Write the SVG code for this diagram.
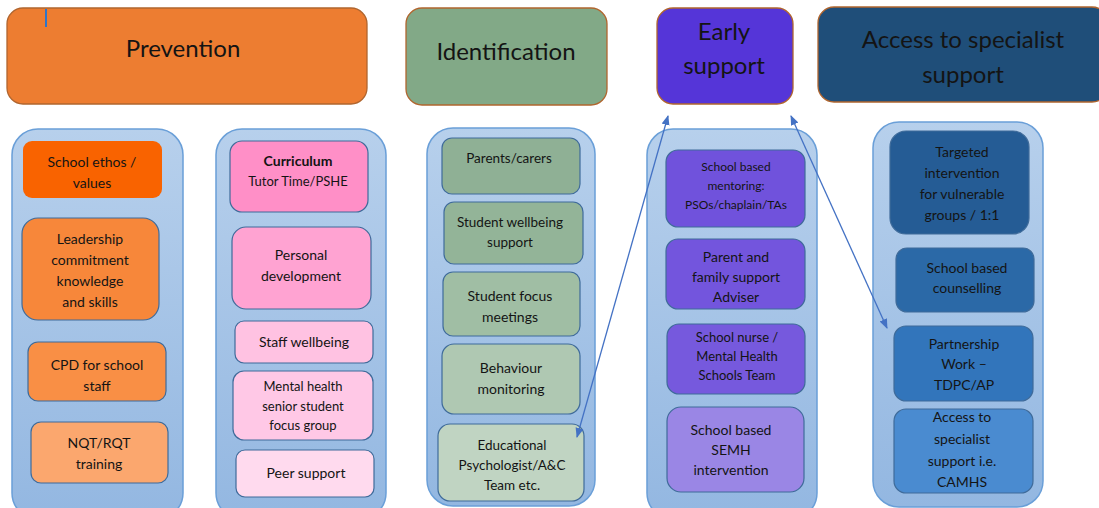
<svg xmlns="http://www.w3.org/2000/svg" width="1099" height="508" viewBox="0 0 1099 508">
<style>
text{font-family:Lato,"Liberation Sans",sans-serif;fill:#141414;text-anchor:middle}
.hd{stroke:#B0652E;stroke-width:1.3}
.col{fill:url(#cg);stroke:#6A9FD8;stroke-width:1.5}
.bx{stroke:#3F6B9A;stroke-width:1.2}
.h{font-size:24px}
.s14{font-size:14px}
.s13{font-size:13px}
.s12{font-size:13.5px}
.s11{font-size:12px}
.conn{stroke:#4472C4;stroke-width:1.3;fill:none;marker-start:url(#ah);marker-end:url(#ah)}
</style>
<defs>
<linearGradient id="cg" x1="0" y1="0" x2="0" y2="1">
<stop offset="0" stop-color="#B7D0EC"/>
<stop offset="1" stop-color="#93B7E1"/>
</linearGradient>
<marker id="ah" viewBox="0 0 10 10" refX="9" refY="5" markerWidth="10" markerHeight="10" markerUnits="userSpaceOnUse" orient="auto-start-reverse">
<path d="M0,1 L10,5 L0,9 Z" fill="#4472C4"/>
</marker>
</defs>
<rect x="0" y="0" width="1099" height="508" fill="#ffffff"/>

<g id="hdr-prevention">
<rect class="hd" x="7" y="8" width="360" height="96" rx="16" fill="#ED7D31"/>
<text class="h" x="183" y="57">Prevention</text>
</g>
<rect x="45" y="9" width="2" height="18" fill="#2E75C9"/>
<g id="hdr-identification">
<rect class="hd" x="406" y="8" width="201" height="97" rx="16" fill="#82A987"/>
<text class="h" x="506" y="60">Identification</text>
</g>
<g id="hdr-early">
<rect class="hd" x="657" y="8" width="136" height="96" rx="16" fill="#5535D8"/>
<text class="h" x="724" y="40">Early</text>
<text class="h" x="724" y="74">support</text>
</g>
<g id="hdr-access">
<rect class="hd" x="818" y="7" width="290" height="95" rx="16" fill="#1F4E79"/>
<text class="h" x="963" y="48">Access to specialist</text>
<text class="h" x="963" y="83">support</text>
</g>

<g id="col-prevention-1">
<rect class="col" x="12" y="129" width="171" height="390" rx="26"/>
</g>
<g id="col-prevention-2">
<rect class="col" x="216" y="129" width="170" height="390" rx="26"/>
</g>
<g id="col-identification">
<rect class="col" x="427" y="128" width="168" height="378" rx="26"/>
</g>
<g id="col-early">
<rect class="col" x="647" y="129" width="170" height="390" rx="26"/>
</g>
<g id="col-access">
<rect class="col" x="873" y="122" width="170" height="385" rx="26"/>
</g>

<g id="n-ethos">
<rect x="23" y="141" width="139" height="57" rx="9" fill="#F96300"/>
<text class="s14" x="92" y="167">School ethos /</text>
<text class="s14" x="92" y="188">values</text>
</g>
<g id="n-leadership">
<rect class="bx" x="22" y="218" width="137" height="102" rx="16" fill="#F7873A"/>
<text class="s14" x="90" y="244">Leadership</text>
<text class="s14" x="90" y="265">commitment</text>
<text class="s14" x="90" y="286">knowledge</text>
<text class="s14" x="90" y="307">and skills</text>
</g>
<g id="n-cpd">
<rect class="bx" x="28" y="342" width="138" height="59" rx="10" fill="#F98F45"/>
<text class="s14" x="97" y="370">CPD for school</text>
<text class="s14" x="97" y="391">staff</text>
</g>
<g id="n-nqt">
<rect class="bx" x="31" y="422" width="137" height="61" rx="10" fill="#FBA76E"/>
<text class="s14" x="99" y="448">NQT/RQT</text>
<text class="s14" x="99" y="469">training</text>
</g>

<g id="n-curriculum">
<rect class="bx" x="230" y="141" width="138" height="71" rx="12" fill="#FF8FC7"/>
<text class="s14" x="298" y="166" font-weight="bold">Curriculum</text>
<text class="s13" x="298" y="186">Tutor Time/PSHE</text>
</g>
<g id="n-personal">
<rect class="bx" x="232" y="227" width="139" height="82" rx="14" fill="#FFA3D2"/>
<text class="s14" x="301" y="260">Personal</text>
<text class="s14" x="301" y="281">development</text>
</g>
<g id="n-staff">
<rect class="bx" x="235" y="321" width="138" height="42" rx="9" fill="#FFC2E2"/>
<text class="s14" x="304" y="347">Staff wellbeing</text>
</g>
<g id="n-mental">
<rect class="bx" x="233" y="371" width="140" height="69" rx="11" fill="#FFC8E6"/>
<text class="s13" x="303" y="391">Mental health</text>
<text class="s13" x="303" y="411">senior student</text>
<text class="s13" x="303" y="430">focus group</text>
</g>
<g id="n-peer">
<rect class="bx" x="236" y="450" width="138" height="47" rx="9" fill="#FFDAEE"/>
<text class="s14" x="306" y="478">Peer support</text>
</g>

<g id="n-parents">
<rect class="bx" x="442" y="138" width="138" height="56" rx="10" fill="#8FB095"/>
<text class="s12" x="509" y="163">Parents/carers</text>
</g>
<g id="n-wellbeing">
<rect class="bx" x="444" y="202" width="139" height="62" rx="10" fill="#93B498"/>
<text class="s12" x="510" y="227">Student wellbeing</text>
<text class="s12" x="510" y="247">support</text>
</g>
<g id="n-focus">
<rect class="bx" x="443" y="272" width="137" height="64" rx="10" fill="#A0BEA4"/>
<text class="s14" x="510" y="301">Student focus</text>
<text class="s14" x="510" y="322">meetings</text>
</g>
<g id="n-behaviour">
<rect class="bx" x="442" y="344" width="138" height="70" rx="12" fill="#AFC8B2"/>
<text class="s14" x="511" y="373">Behaviour</text>
<text class="s14" x="511" y="394">monitoring</text>
</g>
<g id="n-edpsych">
<rect class="bx" x="438" y="424" width="146" height="77" rx="12" fill="#C0D4C2"/>
<text class="s12" x="512" y="450">Educational</text>
<text class="s12" x="512" y="470">Psychologist/A&amp;C</text>
<text class="s12" x="512" y="490">Team etc.</text>
</g>

<g id="n-mentoring">
<rect class="bx" x="666" y="150" width="139" height="77" rx="12" fill="#7052DC"/>
<text class="s11" x="736" y="171">School based</text>
<text class="s11" x="736" y="190">mentoring:</text>
<text class="s11" x="736" y="209">PSOs/chaplain/TAs</text>
</g>
<g id="n-parentfamily">
<rect class="bx" x="666" y="239" width="139" height="70" rx="12" fill="#7355DD"/>
<text class="s14" x="736" y="262">Parent and</text>
<text class="s14" x="736" y="282">family support</text>
<text class="s14" x="736" y="302">Adviser</text>
</g>
<g id="n-nurse">
<rect class="bx" x="667" y="324" width="138" height="70" rx="12" fill="#7659DD"/>
<text class="s13" x="737" y="342">School nurse /</text>
<text class="s13" x="737" y="361">Mental Health</text>
<text class="s13" x="737" y="380">Schools Team</text>
</g>
<g id="n-semh">
<rect class="bx" x="667" y="407" width="137" height="85" rx="14" fill="#9A86E5"/>
<text class="s14" x="731" y="435">School based</text>
<text class="s14" x="731" y="455">SEMH</text>
<text class="s14" x="731" y="475">intervention</text>
</g>

<g id="n-targeted">
<rect class="bx" x="890" y="131" width="139" height="103" rx="16" fill="#255C95"/>
<text class="s14" x="962" y="157">Targeted</text>
<text class="s14" x="962" y="178">intervention</text>
<text class="s14" x="962" y="199">for vulnerable</text>
<text class="s14" x="962" y="220">groups / 1:1</text>
</g>
<g id="n-counselling">
<rect class="bx" x="896" y="248" width="138" height="64" rx="11" fill="#2B69A7"/>
<text class="s14" x="967" y="273">School based</text>
<text class="s14" x="967" y="293">counselling</text>
</g>
<g id="n-partnership">
<rect class="bx" x="894" y="326" width="139" height="75" rx="12" fill="#3275BB"/>
<text class="s14" x="964" y="349">Partnership</text>
<text class="s14" x="964" y="369">Work –</text>
<text class="s14" x="964" y="390">TDPC/AP</text>
</g>
<g id="n-camhs">
<rect class="bx" x="894" y="409" width="139" height="84" rx="12" fill="#4A8BD0"/>
<text class="s14" x="962" y="422">Access to</text>
<text class="s14" x="962" y="444">specialist</text>
<text class="s14" x="962" y="466">support i.e.</text>
<text class="s14" x="962" y="487">CAMHS</text>
</g>

<g id="connectors">
<line class="conn" x1="577" y1="437" x2="668" y2="116"/>
<line class="conn" x1="791" y1="116" x2="887" y2="328"/>
</g>
</svg>
